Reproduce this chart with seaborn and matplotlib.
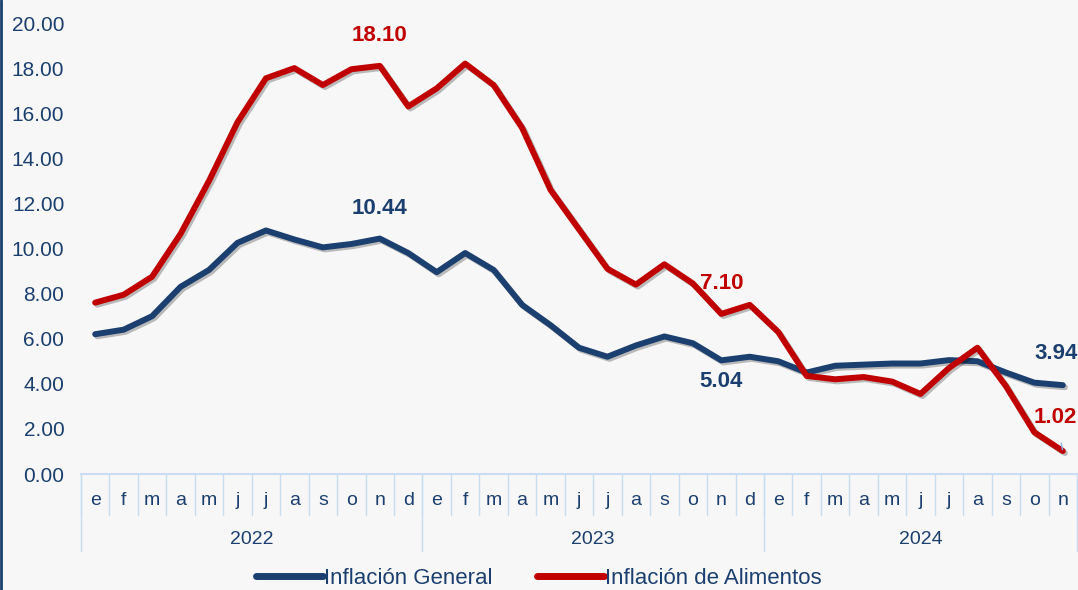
import numpy as np
import pandas as pd
import matplotlib
matplotlib.use("Agg")
import matplotlib.pyplot as plt
import matplotlib.patheffects as pe
from matplotlib.lines import Line2D
import seaborn as sns

# Datos (inflacion interanual, %)
months = ["e", "f", "m", "a", "m", "j", "j", "a", "s", "o", "n", "d"] * 2 + \
         ["e", "f", "m", "a", "m", "j", "j", "a", "s", "o", "n"]
years = ["2022", "2023", "2024"]
year_len = [12, 12, 11]

general = [6.20, 6.40, 7.00, 8.30, 9.05, 10.25, 10.80, 10.40, 10.05, 10.20, 10.44, 9.80,
           8.95, 9.80, 9.05, 7.50, 6.60, 5.60, 5.20, 5.70, 6.10, 5.80, 5.04, 5.20,
           5.00, 4.50, 4.80, 4.85, 4.90, 4.90, 5.05, 5.00, 4.50, 4.05, 3.94]
alimentos = [7.60, 7.95, 8.75, 10.65, 13.00, 15.60, 17.55, 18.00, 17.25, 17.95, 18.10, 16.30,
             17.10, 18.20, 17.25, 15.35, 12.60, 10.85, 9.10, 8.40, 9.30, 8.45, 7.10, 7.50,
             6.30, 4.35, 4.20, 4.30, 4.10, 3.55, 4.70, 5.60, 3.90, 1.85, 1.02]

BLUE = "#1B3F6E"
RED = "#C00000"
GRID = "#C9DDF2"
BG = "#F7F7F7"

n = len(months)
idx = np.arange(n)
df = pd.DataFrame({
    "idx": np.concatenate([idx, idx]),
    "valor": general + alimentos,
    "serie": ["Inflación General"] * n + ["Inflación de Alimentos"] * n,
})

sns.set_theme(style="white")
plt.rcParams["font.family"] = ["Liberation Sans", "DejaVu Sans"]

fig = plt.figure(figsize=(10.78, 5.90), dpi=100, facecolor=BG)
ax = fig.add_axes([0.0751, 0.1966, 0.924, 0.7644])
ax.set_facecolor(BG)

shadow = [pe.SimpleLineShadow(offset=(1.5, -1.5), shadow_color="#000000", alpha=0.25), pe.Normal()]
sns.lineplot(data=df, x="idx", y="valor", hue="serie",
             palette={"Inflación General": BLUE, "Inflación de Alimentos": RED},
             linewidth=4.3, ax=ax, legend=False, path_effects=shadow,
             solid_capstyle="round", solid_joinstyle="round")

ax.set_xlim(-0.5, n - 0.5)
ax.set_ylim(0, 20)
ax.set_yticks(np.arange(0, 20.1, 2))
ax.set_yticklabels([f"{v:.2f}" for v in np.arange(0, 20.1, 2)], color=BLUE, fontsize=15)
ax.tick_params(axis="y", length=0, pad=12)
ax.set_xticks([])
ax.set_xlabel("")
ax.set_ylabel("")
for s in ["top", "right", "left"]:
    ax.spines[s].set_visible(False)
ax.spines["bottom"].set_color(GRID)
ax.spines["bottom"].set_linewidth(1.5)

# Eje de categorias con meses y años
trans = ax.get_xaxis_transform()
for i, m in enumerate(months):
    ax.text(i, -0.058, m, transform=trans, ha="center", va="center",
            fontsize=14, color=BLUE, clip_on=False)
for b in range(n + 1):
    ax.plot([b - 0.5, b - 0.5], [0, -0.09], transform=trans, color=GRID,
            lw=1.0, clip_on=False)
start = 0
for y, L in zip(years, year_len):
    ax.plot([start - 0.5, start - 0.5], [0, -0.17], transform=trans, color=GRID,
            lw=1.0, clip_on=False)
    ax.text(start + L / 2 - 0.5, -0.146, y, transform=trans, ha="center", va="center",
            fontsize=14, color=BLUE, clip_on=False)
    start += L
ax.plot([n - 0.5, n - 0.5], [0, -0.17], transform=trans, color=GRID, lw=1.0, clip_on=False)

# Etiquetas de datos
labels = [
    (10, alimentos[10], "18.10", RED, 0, 30),
    (10, general[10], "10.44", BLUE, 0, 30),
    (22, alimentos[22], "7.10", RED, 0, 30),
    (22, general[22], "5.04", BLUE, 0, -21),
    (34, general[34], "3.94", BLUE, -7, 32),
]
for x, yv, t, c, dx, dy in labels:
    ax.annotate(t, (x, yv), xytext=(dx, dy), textcoords="offset pixels",
                ha="center", va="center", fontsize=16, fontweight="bold",
                color=c, annotation_clip=False)
ax.annotate("1.02", (34, alimentos[34]), xytext=(-7, 34), textcoords="offset pixels",
            ha="center", va="center", fontsize=16, fontweight="bold", color=RED,
            arrowprops=dict(arrowstyle="-", color="#8DB4E2", lw=1, shrinkA=9, shrinkB=1),
            annotation_clip=False)

# Leyenda
handles = [Line2D([0], [0], color=BLUE, lw=5, solid_capstyle="round"),
           Line2D([0], [0], color=RED, lw=5, solid_capstyle="round")]
fig.legend(handles, ["Inflación General", "Inflación de Alimentos"], loc="center",
           bbox_to_anchor=(0.5, 0.02), ncol=2, frameon=False, fontsize=16,
           labelcolor=BLUE, handlelength=3.0, handletextpad=0.05, columnspacing=2.0)

# Borde izquierdo
fig.add_artist(Line2D([0.001, 0.001], [0, 1], transform=fig.transFigure, color=BLUE, lw=2))

fig.savefig("out.png", dpi=100, facecolor=BG)
